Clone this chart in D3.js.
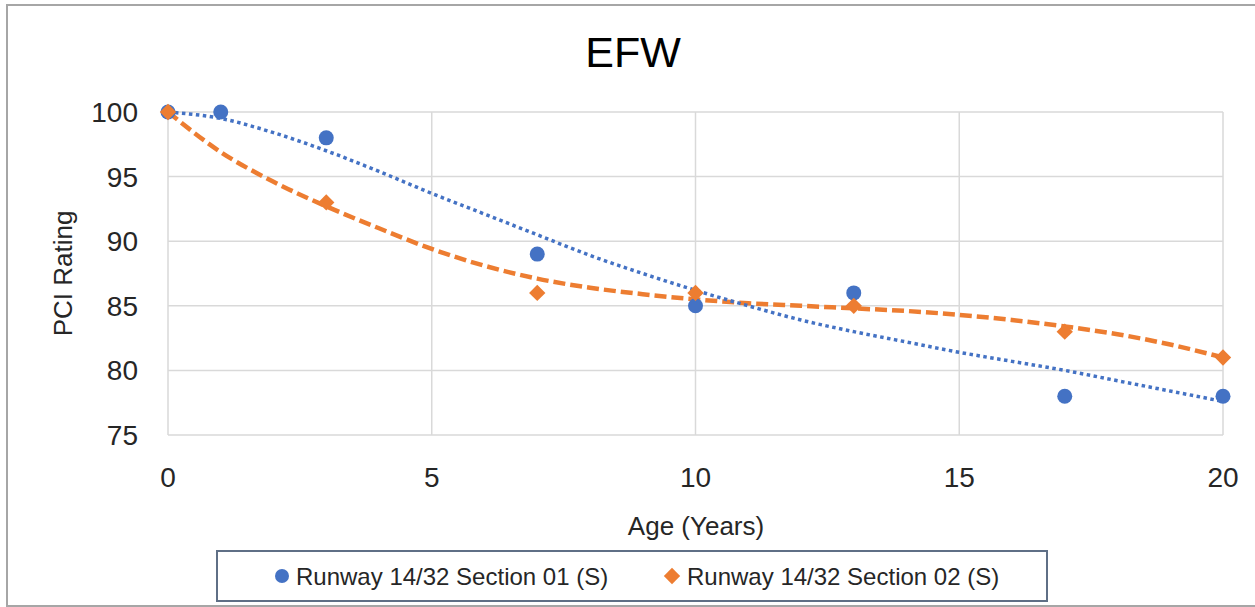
<!DOCTYPE html>
<html>
<head>
<meta charset="utf-8">
<script src="https://cdn.jsdelivr.net/npm/d3@7"></script>
<style>
    body { margin: 0; background: #ffffff; }
    svg { display: block; font-family: "Liberation Sans", Arial, sans-serif; }
</style>
</head>
<body>
<div id="chart"></div>
<script>
// Observed points
const ageSec01 = [0, 1, 3, 7, 10, 13, 17, 20];
const pciSec01 = [100, 100, 98, 89, 85, 86, 78, 78];
const ageSec02 = [0, 3, 7, 10, 13, 17, 20];
const pciSec02 = [100, 93, 86, 86, 85, 83, 81];

// Trendlines (one value per year)
const trendAges = [0, 1, 2, 3, 4, 5, 6, 7, 8, 9, 10, 11, 12, 13, 14, 15, 16, 17, 18, 19, 20];
const trendSec01 = [100, 99.5, 98.4, 97.0, 95.4, 93.7, 92.1, 90.5, 88.9, 87.5, 86.2, 85.0, 83.9, 83.0, 82.2, 81.4, 80.7, 80.0, 79.2, 78.4, 77.6];
const trendSec02 = [100, 96.9, 94.6, 92.7, 91.0, 89.4, 88.1, 87.1, 86.4, 85.9, 85.5, 85.2, 85.0, 84.8, 84.6, 84.3, 83.9, 83.4, 82.8, 82.0, 81.0];

const xTicks = [0, 5, 10, 15, 20];
const yTicks = [75, 80, 85, 90, 95, 100];
const seriesNames = ["Runway 14/32 Section 01 (S)", "Runway 14/32 Section 02 (S)"];

const blue = "#4472c4";
const orange = "#ed7d31";
const grid = "#d9d9d9";

const width = 1255, height = 607;
const svg = d3.select("#chart").append("svg")
    .attr("width", width)
    .attr("height", height);

// chart frame
svg.append("rect")
    .attr("x", 7).attr("y", 5)
    .attr("width", width + 10).attr("height", 601)
    .attr("fill", "#fff")
    .attr("stroke", "#a6a6a6")
    .attr("stroke-width", 2);

const x = d3.scaleLinear().domain([0, 20]).range([168, 1223]);
const y = d3.scaleLinear().domain([75, 100]).range([435, 112]);

// gridlines
svg.append("g")
    .selectAll("line.h")
    .data(yTicks)
    .join("line")
    .attr("x1", x(0)).attr("x2", x(20))
    .attr("y1", d => y(d)).attr("y2", d => y(d))
    .attr("stroke", grid).attr("stroke-width", 1.5);

svg.append("g")
    .selectAll("line.v")
    .data(xTicks)
    .join("line")
    .attr("x1", d => x(d)).attr("x2", d => x(d))
    .attr("y1", y(75)).attr("y2", y(100))
    .attr("stroke", grid).attr("stroke-width", 1.5);

// tick labels
svg.append("g")
    .selectAll("text")
    .data(yTicks)
    .join("text")
    .attr("x", 138)
    .attr("y", d => y(d))
    .attr("dy", "0.36em")
    .attr("text-anchor", "end")
    .attr("font-size", 28)
    .attr("fill", "#262626")
    .text(d => d);

svg.append("g")
    .selectAll("text")
    .data(xTicks)
    .join("text")
    .attr("x", d => x(d))
    .attr("y", 487)
    .attr("text-anchor", "middle")
    .attr("font-size", 28)
    .attr("fill", "#262626")
    .text(d => d);

// titles
svg.append("text")
    .attr("x", 633).attr("y", 67)
    .attr("text-anchor", "middle")
    .attr("font-size", 43)
    .attr("fill", "#000")
    .text("EFW");

svg.append("text")
    .attr("x", 696).attr("y", 535)
    .attr("text-anchor", "middle")
    .attr("font-size", 26)
    .attr("fill", "#262626")
    .text("Age (Years)");

svg.append("text")
    .attr("transform", `translate(72,${(y(75) + y(100)) / 2}) rotate(-90)`)
    .attr("text-anchor", "middle")
    .attr("font-size", 26)
    .attr("fill", "#262626")
    .text("PCI Rating");

// trendlines
const line = d3.line()
    .x((d, i) => x(trendAges[i]))
    .y(d => y(d))
    .curve(d3.curveMonotoneX);

svg.append("path")
    .attr("d", line(trendSec02))
    .attr("fill", "none")
    .attr("stroke", orange)
    .attr("stroke-width", 4.5)
    .attr("stroke-dasharray", "12 5");

svg.append("path")
    .attr("d", line(trendSec01))
    .attr("fill", "none")
    .attr("stroke", blue)
    .attr("stroke-width", 3.5)
    .attr("stroke-dasharray", "3.5 3.5");

// markers
const diamond = d3.symbol().type(d3.symbolDiamond2).size(170);

svg.append("g")
    .selectAll("circle")
    .data(ageSec01)
    .join("circle")
    .attr("cx", d => x(d))
    .attr("cy", (d, i) => y(pciSec01[i]))
    .attr("r", 7.5)
    .attr("fill", blue);

svg.append("g")
    .selectAll("path")
    .data(ageSec02)
    .join("path")
    .attr("d", diamond)
    .attr("transform", (d, i) => `translate(${x(d)},${y(pciSec02[i])})`)
    .attr("fill", orange);

// legend
const legend = svg.append("g");
legend.append("rect")
    .attr("x", 217).attr("y", 551)
    .attr("width", 830).attr("height", 50)
    .attr("fill", "#fff")
    .attr("stroke", "#5f6f86")
    .attr("stroke-width", 2);

legend.append("circle")
    .attr("cx", 282).attr("cy", 576).attr("r", 7)
    .attr("fill", blue);
legend.append("text")
    .attr("x", 296).attr("y", 576).attr("dy", "0.36em")
    .attr("font-size", 24)
    .attr("fill", "#262626")
    .text(seriesNames[0]);

legend.append("path")
    .attr("d", diamond)
    .attr("transform", "translate(672,576)")
    .attr("fill", orange);
legend.append("text")
    .attr("x", 687).attr("y", 576).attr("dy", "0.36em")
    .attr("font-size", 24)
    .attr("fill", "#262626")
    .text(seriesNames[1]);
</script>
</body>
</html>
